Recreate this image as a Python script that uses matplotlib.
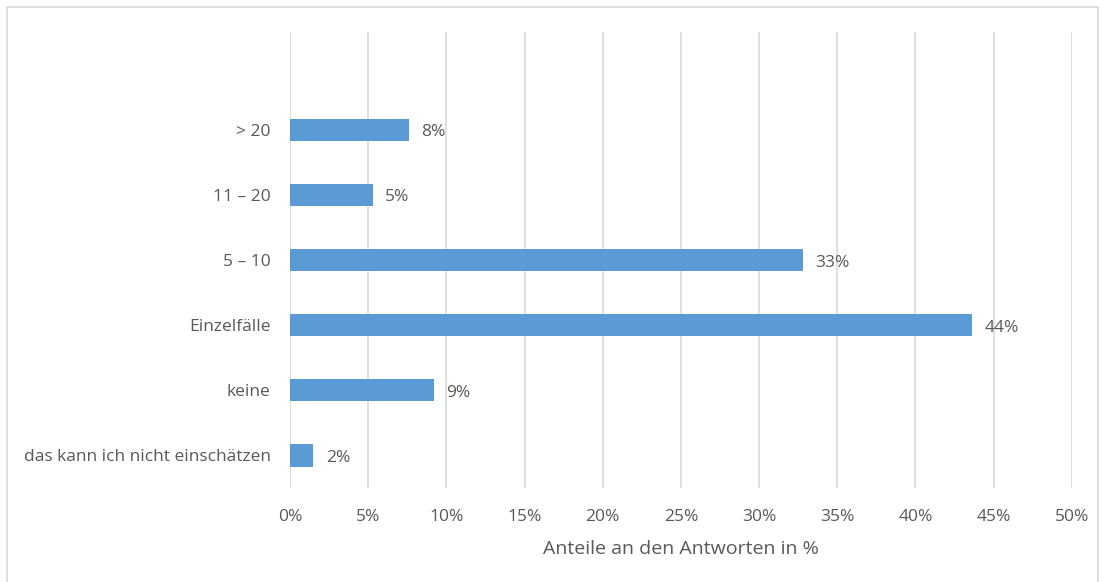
import matplotlib.pyplot as plt
from matplotlib.ticker import PercentFormatter
from matplotlib.patches import Rectangle

plt.rcParams['font.family'] = ['Open Sans', 'DejaVu Sans']

categories = ['das kann ich nicht einschätzen', 'keine', 'Einzelfälle', '5 – 10', '11 – 20', '> 20']
shares = [1.5, 9.2, 43.6, 32.8, 5.3, 7.6]
x_ticks = list(range(0, 55, 5))

text_grey = '#595959'
bar_blue = '#5B9BD5'

fig = plt.figure(figsize=(11.05, 5.82), dpi=100)
ax = fig.add_axes([0.2624, 0.1615, 0.7076, 0.7835])

# outer chart frame
fig.patches.append(Rectangle((7 / 1105, -0.05), 1091 / 1105, 1 - 7 / 582 + 0.05,
                             transform=fig.transFigure, fill=False,
                             edgecolor='#D9D9D9', linewidth=1.2))

pos = list(range(len(categories)))
ax.barh(pos, shares, height=0.34, color=bar_blue, zorder=3)
for y, v in zip(pos, shares):
    ax.text(v + 0.8, y - 0.04, f'{v:.0f}%', va='center', ha='left',
            fontsize=12.5, color=text_grey)

ax.set_xlim(0, 50)
ax.set_ylim(-0.5, 6.5)
ax.set_xticks(x_ticks)
ax.xaxis.set_major_formatter(PercentFormatter(decimals=0))
ax.set_yticks(pos)
ax.set_yticklabels(categories)
ax.grid(axis='x', color='#D9D9D9', linewidth=1.2, zorder=0)
for s in ax.spines.values():
    s.set_visible(False)
ax.tick_params(length=0, labelsize=12.5, labelcolor=text_grey)
ax.tick_params(axis='x', pad=15)
ax.tick_params(axis='y', pad=14)
ax.set_xlabel('Anteile an den Antworten in %', fontsize=14, color=text_grey, labelpad=11)

fig.savefig('out.png', dpi=100)
